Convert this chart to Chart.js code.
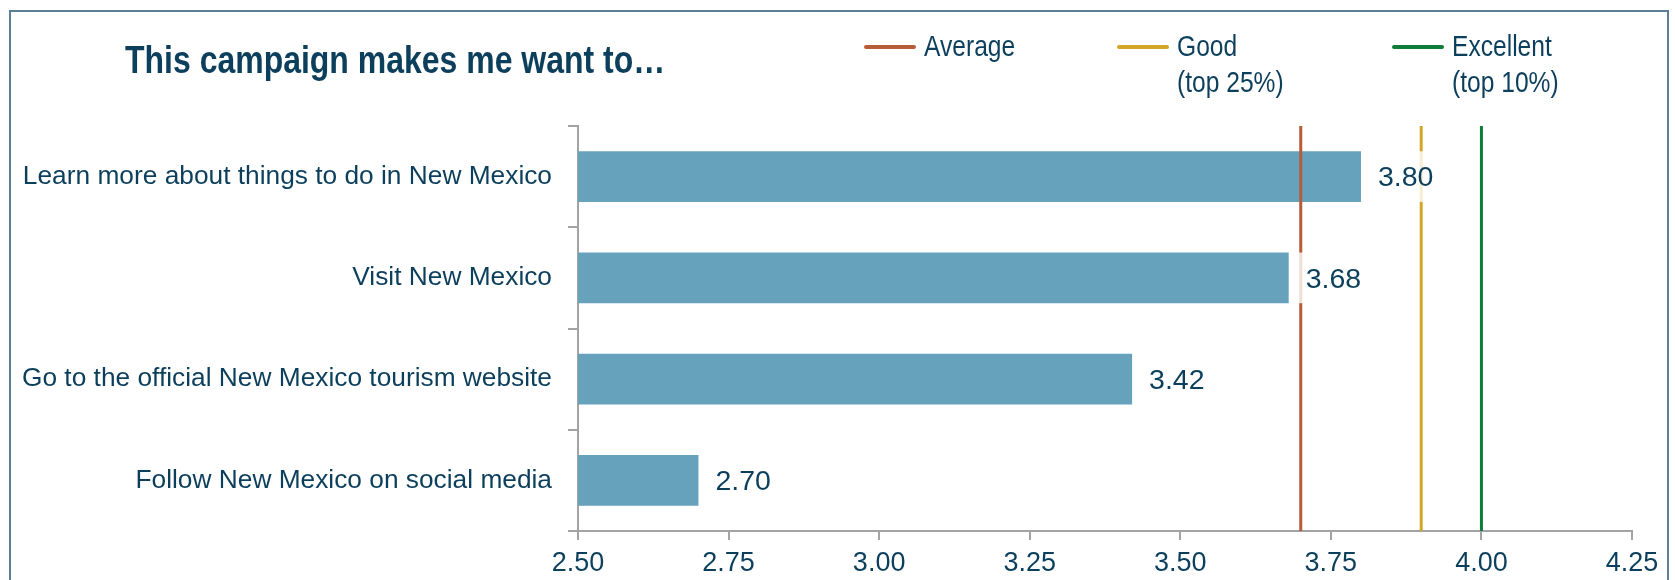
<!DOCTYPE html>
<html>
<head>
<meta charset="utf-8">
<title>This campaign makes me want to…</title>
<script src="https://cdn.jsdelivr.net/npm/chart.js@4.4.1/dist/chart.umd.min.js"></script>
<style>
  html, body { margin: 0; padding: 0; background: #fff; }
  body { width: 1675px; height: 580px; position: relative; overflow: hidden; }
  .frame {
    position: absolute; left: 9px; top: 10px; width: 1656px; height: 620px;
    border: 2px solid #5b8096;
  }
  #chart { position: absolute; left: 0; top: 0; }
  /* narrow look: the sans face squeezed horizontally */
  .title {
    position: absolute; left: 125px; top: 38px; margin: 0;
    font: bold 39px "Liberation Sans", Arial, sans-serif;
    color: #0c3f5c; white-space: nowrap;
    transform: scaleX(0.82); transform-origin: 0 0;
  }
  .legend-item { position: absolute; top: 28px; display: flex; align-items: flex-start; }
  .legend-item .swatch { width: 52px; height: 4px; margin-top: 17px; margin-right: 8px; border-radius: 2px; flex: none; }
  .legend-item .text {
    display: inline-block;
    font: 30px "Liberation Sans", Arial, sans-serif;
    color: #0c3f5c; line-height: 36px; white-space: pre;
    transform: scaleX(0.82); transform-origin: 0 0;
  }
</style>
</head>
<body>
<div class="frame"></div>
<canvas id="chart" width="1675" height="580"></canvas>
<h1 class="title">This campaign makes me want to…</h1>
<div id="legend"></div>
<script>
const categories = [
  'Learn more about things to do in New Mexico',
  'Visit New Mexico',
  'Go to the official New Mexico tourism website',
  'Follow New Mexico on social media'
];
const scores = [3.80, 3.68, 3.42, 2.70];

const benchmarkNames = ['Average', 'Good\n(top 25%)', 'Excellent\n(top 10%)'];
const benchmarkValues = [3.70, 3.90, 4.00];

const xTicks = [2.50, 2.75, 3.00, 3.25, 3.50, 3.75, 4.00, 4.25];

const benchmarkColors = ['#b85c38', '#d4a627', '#0e7d3c'];
const legendLeft = [864, 1117, 1392];
const NAVY = '#0c3f5c';
const AXIS_GREY = '#a3a3a3';
const SANS = '"Liberation Sans", Arial, sans-serif';

// legend for the benchmark lines
const legendEl = document.getElementById('legend');
benchmarkNames.forEach((name, i) => {
  const item = document.createElement('div');
  item.className = 'legend-item';
  item.style.left = legendLeft[i] + 'px';
  const sw = document.createElement('span');
  sw.className = 'swatch';
  sw.style.background = benchmarkColors[i];
  const txt = document.createElement('span');
  txt.className = 'text';
  txt.textContent = name;
  item.appendChild(sw);
  item.appendChild(txt);
  legendEl.appendChild(item);
});

// vertical benchmark lines, then the value labels on top of them
const overlayPlugin = {
  id: 'overlay',
  afterDatasetsDraw(chart) {
    const { ctx, chartArea, scales } = chart;
    ctx.save();
    benchmarkValues.forEach((v, i) => {
      const x = scales.x.getPixelForValue(v);
      ctx.strokeStyle = benchmarkColors[i];
      ctx.lineWidth = 3;
      ctx.beginPath();
      ctx.moveTo(x, chartArea.top);
      ctx.lineTo(x, chartArea.bottom);
      ctx.stroke();
    });

    const meta = chart.getDatasetMeta(0);
    ctx.font = '28.5px ' + SANS;
    ctx.textBaseline = 'middle';
    ctx.textAlign = 'left';
    meta.data.forEach((bar, i) => {
      const label = scores[i].toFixed(2);
      const w = ctx.measureText(label).width;
      const h = bar.height;
      ctx.fillStyle = 'rgba(255,255,255,0.8)';
      ctx.fillRect(bar.x + 1, bar.y - h / 2, w + 20, h);
      ctx.fillStyle = NAVY;
      ctx.fillText(label, bar.x + 17, bar.y + 2);
    });
    ctx.restore();
  }
};

new Chart(document.getElementById('chart'), {
  type: 'bar',
  data: {
    labels: categories,
    datasets: [{
      data: scores,
      backgroundColor: '#67a2bd',
      borderWidth: 0,
      barPercentage: 0.5,
      categoryPercentage: 1
    }]
  },
  options: {
    indexAxis: 'y',
    responsive: false,
    animation: false,
    layout: { padding: { top: 126, right: 43, left: 0, bottom: 0 } },
    plugins: {
      legend: { display: false },
      tooltip: { enabled: false }
    },
    scales: {
      x: {
        min: 2.5,
        max: 4.25,
        afterBuildTicks(scale) {
          scale.ticks = xTicks.map(v => ({ value: v }));
        },
        afterFit(scale) { scale.height = 49; },
        border: { display: true, color: AXIS_GREY, width: 2 },
        grid: { drawOnChartArea: false, drawTicks: true, tickLength: 9, color: AXIS_GREY, lineWidth: 2 },
        ticks: {
          padding: 7,
          color: NAVY,
          font: { family: SANS, size: 27 },
          callback: v => Number(v).toFixed(2)
        }
      },
      y: {
        afterFit(scale) { scale.width = 578; },
        border: { display: true, color: AXIS_GREY, width: 2 },
        grid: { drawOnChartArea: false, drawTicks: true, tickLength: 10, color: AXIS_GREY, lineWidth: 2, offset: true },
        ticks: {
          padding: 16,
          color: NAVY,
          font: { family: SANS, size: 26.3 }
        }
      }
    }
  },
  plugins: [overlayPlugin]
});
</script>
</body>
</html>
